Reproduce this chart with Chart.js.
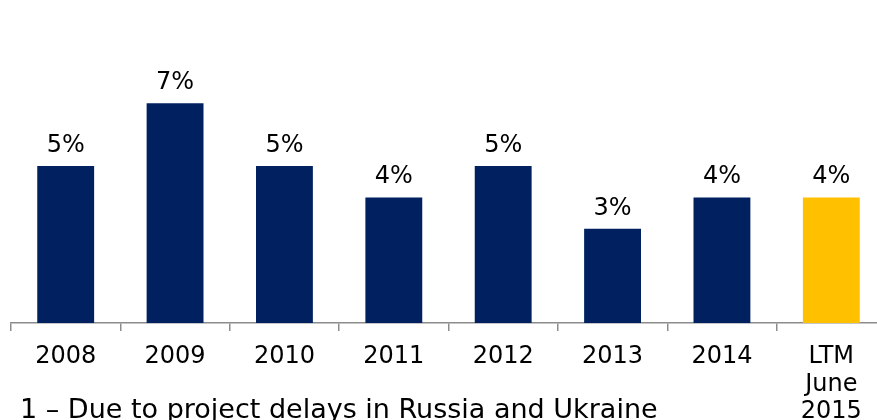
<!DOCTYPE html>
<html>
<head>
<meta charset="utf-8">
<script src="https://cdn.jsdelivr.net/npm/chart.js@4/dist/chart.umd.min.js"></script>
<style>
  html, body { margin: 0; padding: 0; overflow: hidden; background: #fff; }
  #wrap { position: relative; width: 886px; height: 420px; }
  #note {
    position: absolute; left: 20px; top: 393px;
    font: 27px "DejaVu Sans", Verdana, sans-serif; color: #000; white-space: nowrap;
  }
</style>
</head>
<body>
<div id="wrap">
  <canvas id="chart" width="886" height="420"></canvas>
  <div id="note">1 – Due to project delays in Russia and Ukraine</div>
</div>
<script>
// Dados do gráfico
const categories = ['2008', '2009', '2010', '2011', '2012', '2013', '2014', ['LTM', 'June', '2015']];
const values = [5, 7, 5, 4, 5, 3, 4, 4];
const barColors = ['#002060', '#002060', '#002060', '#002060', '#002060', '#002060', '#002060', '#FFC000'];

const FONT = '"DejaVu Sans", Verdana, sans-serif';

// Rótulo de valor acima de cada barra
const valueLabels = {
    id: 'valueLabels',
    afterDatasetsDraw(chart) {
        const ctx = chart.ctx;
        const meta = chart.getDatasetMeta(0);
        ctx.save();
        ctx.font = '24px ' + FONT;
        ctx.fillStyle = '#000';
        ctx.textAlign = 'center';
        ctx.textBaseline = 'alphabetic';
        meta.data.forEach((bar, i) => {
            ctx.fillText(values[i] + '%', bar.x, bar.y - 14);
        });
        ctx.restore();
    }
};

new Chart(document.getElementById('chart'), {
    type: 'bar',
    data: {
        labels: categories,
        datasets: [{
            data: values,
            backgroundColor: barColors,
            borderWidth: 0,
            barPercentage: 0.52,
            categoryPercentage: 1
        }]
    },
    options: {
        responsive: false,
        animation: false,
        layout: { padding: { top: 9, left: 11, right: 0, bottom: 0 } },
        plugins: { legend: { display: false }, tooltip: { enabled: false } },
        scales: {
            x: {
                afterFit(scale) { scale.height = 97; },
                border: { display: true, color: '#8c8c8c', width: 1.5 },
                grid: {
                    offset: true,
                    drawOnChartArea: false,
                    drawTicks: true,
                    tickLength: 8,
                    color: '#8c8c8c',
                    lineWidth: 1.5
                },
                ticks: {
                    padding: 12,
                    color: '#000',
                    maxRotation: 0,
                    autoSkip: false,
                    font: { family: FONT, size: 24, lineHeight: 1.15 }
                }
            },
            y: {
                display: false,
                min: 0,
                max: 10
            }
        }
    },
    plugins: [valueLabels]
});
</script>
</body>
</html>
